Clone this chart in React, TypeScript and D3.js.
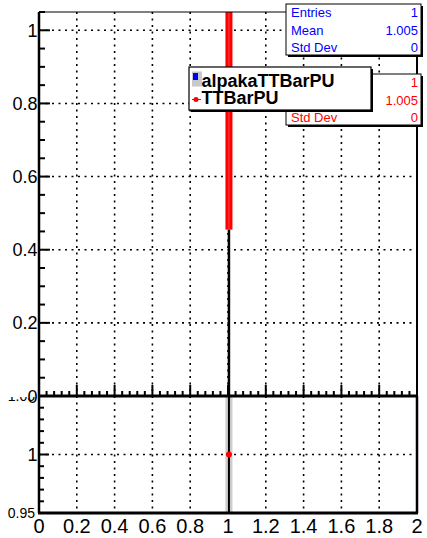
import React from "react";
import * as d3 from "d3";

const xTicks = [0, 0.2, 0.4, 0.6, 0.8, 1, 1.2, 1.4, 1.6, 1.8, 2];
const xTickLabels = ["0", "0.2", "0.4", "0.6", "0.8", "1", "1.2", "1.4", "1.6", "1.8", "2"];
const upperYTicks = [0, 0.2, 0.4, 0.6, 0.8, 1];
const upperYLabels = ["0", "0.2", "0.4", "0.6", "0.8", "1"];
const lowerYTicks = [0.95, 1, 1.05];
const lowerYLabels = ["0.95", "1", "1.05"];

const binCenters = [1.005];
const ttbarValues = [1];
const ttbarErrLow = [0.455];
const ttbarErrHigh = [1.545];
const ratioValues = [1];

const statsLabels = ["Entries", "Mean", "Std Dev"];
const alpakaStats = ["1", "1.005", "0"];
const ttbarStats = ["1", "1.005", "0"];
const legendEntries = ["alpakaTTBarPU", "TTBarPU"];

const FONT = "'Liberation Sans', Arial, Helvetica, sans-serif";
const RED = "#ff0000";
const BLUE = "#0000ff";

export default function App() {
  const W = 427, H = 538;
  const xL = 39, xR = 417;
  const uTop = 12, uBot = 396;
  const lTop = 396, lBot = 513;

  const x = d3.scaleLinear().domain([0, 2]).range([xL, xR]);
  const yU = d3.scaleLinear().domain([0, 1.05]).range([uBot, uTop]);
  const yL = d3.scaleLinear().domain([0.95, 1.05]).range([lBot, lTop]);

  const xMinor = d3.range(0, 2.0001, 0.04);
  const yUMinor = d3.range(0, 1.0501, 0.05);
  const yLMinor = d3.range(0.95, 1.0501, 0.01);

  const dots = "2 4.5";

  const statBox = (
    key: string,
    top: number,
    color: string,
    values: string[]
  ) => {
    const bx = 286, bw = 135, bh = 51;
    return (
      <g key={key}>
        <rect x={bx + 2} y={top + 2} width={bw} height={bh} fill="black" />
        <rect x={bx} y={top} width={bw} height={bh} fill="white" stroke="black" strokeWidth={1} />
        {statsLabels.map((s, i) => (
          <g key={s}>
            <text x={bx + 5} y={top + 13 + i * 17.5} fill={color} fontSize={13} fontFamily={FONT}>
              {s}
            </text>
            <text x={bx + bw - 3} y={top + 13 + i * 17.5} fill={color} fontSize={13} fontFamily={FONT} textAnchor="end">
              {values[i]}
            </text>
          </g>
        ))}
      </g>
    );
  };

  return (
    <svg width={W} height={H} style={{ position: "absolute", left: 0, top: 0, background: "white" }}>
      <defs>
        <clipPath id="lowClip">
          <rect x={0} y={lTop + 1} width={W} height={H - lTop} />
        </clipPath>
        <clipPath id="upClip">
          <rect x={xL} y={uTop} width={xR - xL} height={uBot - uTop} />
        </clipPath>
      </defs>
      <rect x={0} y={0} width={W} height={H} fill="white" />

      {/* ===== Lower pad ===== */}
      {xTicks.map((t) => (
        <line key={"lgx" + t} x1={x(t)} x2={x(t)} y1={lTop} y2={lBot} stroke="black" strokeWidth={1.6} strokeDasharray={dots} />
      ))}
      <line x1={xL} x2={xR} y1={yL(1)} y2={yL(1)} stroke="black" strokeWidth={1.6} strokeDasharray={dots} />
      {binCenters.map((c, i) => (
        <g key={"ratio" + i}>
          <rect x={x(c) - 3.5} y={lTop} width={7} height={lBot - lTop} fill="#cccccc" />
          <line x1={x(c)} x2={x(c)} y1={lTop} y2={lBot} stroke="black" strokeWidth={2} />
          <circle cx={x(c)} cy={yL(ratioValues[i])} r={3} fill={RED} />
        </g>
      ))}
      {/* lower axes */}
      <line x1={xL} x2={xL} y1={lTop} y2={lBot} stroke="black" strokeWidth={2.5} />
      <line x1={xL - 1} x2={xR + 1} y1={lBot} y2={lBot} stroke="black" strokeWidth={3} />
      <line x1={xR} x2={xR} y1={lTop} y2={lBot} stroke="black" strokeWidth={2.5} />
      {yLMinor.map((t, i) => {
        const major = i % 5 === 0;
        return <line key={"lyt" + i} x1={xL} x2={xL + (major ? 10 : 5)} y1={yL(t)} y2={yL(t)} stroke="black" strokeWidth={2} />;
      })}
      {lowerYTicks.map((t, i) => (
        <text
          key={"lyl" + t}
          x={i === 1 ? 37.5 : 35}
          y={i === 1 ? yL(t) + 6.5 : yL(t) + 5}
          fontSize={i === 1 ? 18 : 14}
          fontFamily={FONT}
          textAnchor="end"
          clipPath={i === 2 ? "url(#lowClip)" : undefined}
        >
          {lowerYLabels[i]}
        </text>
      ))}
      {xTicks.map((t, i) => (
        <text key={"xl" + t} x={x(t)} y={533} fontSize={20} fontFamily={FONT} textAnchor="middle">
          {xTickLabels[i]}
        </text>
      ))}

      {/* ===== Upper pad ===== */}
      {xTicks.map((t) => (
        <line key={"ugx" + t} x1={x(t)} x2={x(t)} y1={uTop} y2={uBot} stroke="black" strokeWidth={1.6} strokeDasharray={dots} />
      ))}
      {upperYTicks.map((t) => (
        <line key={"ugy" + t} x1={xL} x2={xR} y1={yU(t)} y2={yU(t)} stroke="black" strokeWidth={1.6} strokeDasharray={dots} />
      ))}
      <g clipPath="url(#upClip)">
        {binCenters.map((c, i) => (
          <g key={"h" + i}>
            <rect
              x={x(c) - 3.5}
              y={yU(ttbarErrHigh[i])}
              width={7}
              height={yU(ttbarErrLow[i]) - yU(ttbarErrHigh[i])}
              fill={RED}
            />
            <line x1={x(c)} x2={x(c)} y1={yU(ttbarErrLow[i])} y2={yU(0)} stroke="black" strokeWidth={2.5} />
            <line x1={x(c)} x2={x(c)} y1={yU(ttbarValues[i] * 1.05)} y2={yU(ttbarErrLow[i])} stroke="#ff5050" strokeWidth={0.8} />
          </g>
        ))}
      </g>
      {/* upper axes */}
      <line x1={xL} x2={xR} y1={uTop} y2={uTop} stroke="black" strokeWidth={1} />
      <line x1={xL} x2={xL} y1={uTop} y2={uBot} stroke="black" strokeWidth={2.5} />
      <line x1={xR} x2={xR} y1={uTop} y2={uBot} stroke="black" strokeWidth={2} />
      <line x1={xL - 1} x2={xR + 1} y1={uBot} y2={uBot} stroke="black" strokeWidth={3} />
      {xMinor.map((t, i) => {
        const major = i % 5 === 0;
        return <line key={"uxt" + i} x1={x(t)} x2={x(t)} y1={uBot} y2={uBot - (major ? 11 : 5)} stroke="black" strokeWidth={2} />;
      })}
      {yUMinor.map((t, i) => {
        const major = i % 4 === 0;
        return <line key={"uyt" + i} x1={xL} x2={xL + (major ? 11 : 6)} y1={yU(t)} y2={yU(t)} stroke="black" strokeWidth={2} />;
      })}
      {upperYTicks.map((t, i) => (
        <text key={"uyl" + t} x={37.5} y={yU(t) + 6.5} fontSize={18} fontFamily={FONT} textAnchor="end">
          {upperYLabels[i]}
        </text>
      ))}

      {/* stats boxes */}
      {statBox("blue", 4, BLUE, alpakaStats)}
      {statBox("red", 74, RED, ttbarStats)}

      {/* legend */}
      <rect x={191} y={69} width={182} height={43} fill="black" />
      <rect x={189} y={67} width={182} height={43} fill="white" stroke="black" strokeWidth={1.2} />
      <rect x={192} y={71.5} width={10} height={15} fill="#c8c8c8" />
      <rect x={193} y={73} width={5} height={7} fill={BLUE} />
      <line x1={192} x2={201} y1={99.5} y2={99.5} stroke={RED} strokeWidth={1} />
      <circle cx={196} cy={99.5} r={2.5} fill={RED} />
      {legendEntries.map((s, i) => (
        <text key={s} x={201.5} y={86.5 + i * 17.5} fontSize={18} fontWeight="bold" fontFamily={FONT}>
          {s}
        </text>
      ))}
    </svg>
  );
}
